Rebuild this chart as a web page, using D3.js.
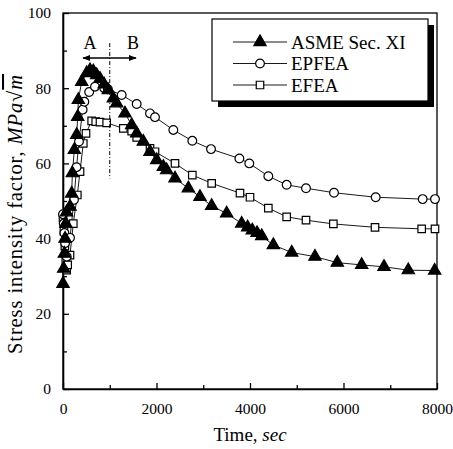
<!DOCTYPE html>
<html><head><meta charset="utf-8">
<script src="https://cdn.jsdelivr.net/npm/d3@7"></script>
<style>
html,body{margin:0;padding:0;background:#fff;}
svg{display:block;}
text{font-family:"Liberation Serif","Times New Roman",serif;fill:#000;}
</style></head>
<body>
<svg id="chart" width="453" height="449"></svg>
<script>
// ---- data ----
const seriesNames = ["ASME Sec. XI", "EPFEA", "EFEA"];
const asmeTime = [0,15,30,45,60,75,150,186,200,243,293,314,328,400,507,578,648,720,791,880,969,1076,1148,1326,1469,1576,1718,1861,2004,2146,2218,2396,2681,2930,3180,3501,3822,3950,4050,4150,4250,4499,4892,5390,5868,6389,6866,7386,7950];
const asmeK    = [28,32,36,40,44,47,48.5,52,57.4,63.6,67.6,72.4,76.9,81.7,84,84.8,84.5,83.5,82.5,81,79.5,77.3,76,73.3,70.2,68,65.8,63.1,60.9,59.1,58.2,56,53.4,51.1,48.7,46.7,44,43,42.2,41.5,40.7,38.3,36.3,35.2,33.6,33,32.5,31.6,31.5];
const epfeaTime = [0,15,30,45,80,150,235,290,342,420,456,560,684,883,960,1255,1576,1861,1968,2360,2766,3166,3773,3985,4392,4784,5198,5797,6688,7693,7957];
const epfeaK    = [46.5,44,41.5,38.8,35.2,40.2,50.3,59,65.8,74.3,76.4,79,80.4,80,79.7,78.2,75.8,73.3,72.3,68.9,66,63.8,61.3,60,56.6,54.3,53.4,52.2,51,50.5,50.5];
const efeaTime = [0,20,40,60,79,100,150,220,306,364,434,492,613,700,791,934,1290,1469,1576,1861,1968,2396,2766,3180,3786,4000,4392,4784,5198,5783,6674,7672,7957];
const efeaK    = [45.5,42,38,34,31.6,33,35.6,44,51.6,57.8,65.3,68,71.3,71.1,71,70.8,69.3,68.6,66.9,64,63.1,60,56.9,54.7,52.1,51,48.1,45.8,44.9,43.9,43,42.6,42.6];
const xTicks = [0,2000,4000,6000,8000];
const xMinor = [1000,3000,5000,7000];
const yTicks = [0,20,40,60,80,100];
const yMinor = [10,30,50,70,90];
const splitTime = 1000;
const splitRange = [56,92];

const svg = d3.select("#chart");
const x = d3.scaleLinear().domain([0,8000]).range([63,437]);
const y = d3.scaleLinear().domain([0,100]).range([389,13]);

// frame
svg.append("rect").attr("x",63).attr("y",13).attr("width",374).attr("height",376)
  .attr("fill","none").attr("stroke","#000").attr("stroke-width",1.3);

// axes with inward ticks
const xAxis = svg.append("g").attr("transform","translate(0,389)")
  .call(d3.axisBottom(x).tickValues(xTicks).tickFormat(d3.format("d")).tickSizeInner(-6).tickSizeOuter(0).tickPadding(14));
xAxis.select(".domain").attr("stroke-width",1.6);
xAxis.selectAll("text").style("font-size","15.5px").attr("font-family","Liberation Serif");
xAxis.selectAll(".tick").filter(d=>d===8000).select("text").attr("text-anchor","end").attr("x",15.5);
svg.append("g").attr("transform","translate(0,389)")
  .call(d3.axisBottom(x).tickValues(xMinor).tickSizeInner(-4).tickSizeOuter(0).tickFormat(""))
  .select(".domain").remove();

const yAxis = svg.append("g").attr("transform","translate(63,0)")
  .call(d3.axisLeft(y).tickValues(yTicks).tickSizeInner(-6).tickSizeOuter(0).tickPadding(12));
yAxis.select(".domain").attr("stroke-width",1.6);
yAxis.selectAll("text").style("font-size","15.5px").attr("font-family","Liberation Serif");
svg.append("g").attr("transform","translate(63,0)")
  .call(d3.axisLeft(y).tickValues(yMinor).tickSizeInner(-4).tickSizeOuter(0).tickFormat(""))
  .select(".domain").remove();
svg.selectAll(".tick line").attr("stroke-width",1.3);

// axis titles
svg.append("text").attr("x",250).attr("y",441).attr("text-anchor","middle")
  .style("font-size","19px")
  .call(t=>{t.append("tspan").text("Time, ");t.append("tspan").attr("font-style","italic").text("sec");});
const yl = svg.append("text").attr("transform","translate(22,214) rotate(-90)")
  .attr("text-anchor","middle").style("font-size","20.5px").style("letter-spacing","0.9px");
yl.append("tspan").text("Stress intensity factor, ");
yl.append("tspan").attr("font-style","italic").text("MPa");
yl.append("tspan").text("\u221A");
yl.append("tspan").attr("font-style","italic").style("text-decoration","overline").text("m");

// series
const series = [
  {name:seriesNames[0], t:asmeTime, k:asmeK, sym:d3.symbolTriangle, size:66, fill:"#000"},
  {name:seriesNames[1], t:epfeaTime, k:epfeaK, sym:d3.symbolCircle, size:60, fill:"#fff"},
  {name:seriesNames[2], t:efeaTime, k:efeaK, sym:d3.symbolSquare, size:56, fill:"#fff"}
];
const line = d3.line().x(d=>x(d[0])).y(d=>y(d[1]));
series.forEach(s=>{
  const pts = s.t.map((t,i)=>[t,s.k[i]]);
  svg.append("path").datum(pts).attr("d",line).attr("fill","none")
    .attr("stroke","#000").attr("stroke-width",0.9);
});
[2,1,0].forEach(i=>{
  const s = series[i];
  const pts = s.t.map((t,j)=>[t,s.k[j]]);
  svg.append("g").selectAll("path").data(pts).join("path")
    .attr("transform",d=>`translate(${x(d[0])},${y(d[1])})`)
    .attr("d",d3.symbol().type(s.sym).size(s.size))
    .attr("fill",s.fill).attr("stroke","#000").attr("stroke-width",1.2);
});

// A/B split
svg.append("line").attr("x1",x(splitTime)).attr("x2",x(splitTime))
  .attr("y1",y(splitRange[1])).attr("y2",y(splitRange[0]))
  .attr("stroke","#000").attr("stroke-width",1).attr("stroke-dasharray","4,2,1,2");
const defs = svg.append("defs");
defs.append("marker").attr("id","ah").attr("viewBox","0 0 10 10").attr("refX",9).attr("refY",5)
  .attr("markerWidth",7).attr("markerHeight",6).attr("orient","auto-start-reverse")
  .append("path").attr("d","M0,1 L10,5 L0,9 Z").attr("fill","#000");
svg.append("line").attr("x1",83).attr("x2",136).attr("y1",58).attr("y2",58)
  .attr("stroke","#000").attr("stroke-width",1.3)
  .attr("marker-start","url(#ah)").attr("marker-end","url(#ah)");
svg.append("text").attr("x",90).attr("y",49).attr("text-anchor","middle").style("font-size","18px").text("A");
svg.append("text").attr("x",133).attr("y",49).attr("text-anchor","middle").style("font-size","18px").text("B");

// legend
const lg = svg.append("g");
lg.append("rect").attr("x",218).attr("y",25).attr("width",216).attr("height",82).attr("fill","#000");
lg.append("rect").attr("x",212).attr("y",19).attr("width",216).attr("height",82)
  .attr("fill","#fff").attr("stroke","#000").attr("stroke-width",1.2);
series.forEach((s,i)=>{
  const cy = 42 + i*21.5;
  lg.append("line").attr("x1",233).attr("x2",287).attr("y1",cy).attr("y2",cy)
    .attr("stroke","#000").attr("stroke-width",0.9);
  lg.append("path").attr("transform",`translate(260,${cy})`)
    .attr("d",d3.symbol().type(s.sym).size(s.size)).attr("fill",s.fill)
    .attr("stroke","#000").attr("stroke-width",1.2);
  lg.append("text").attr("x",291).attr("y",cy+6.5).style("font-size","19px").text(s.name);
});
</script>
</body></html>
